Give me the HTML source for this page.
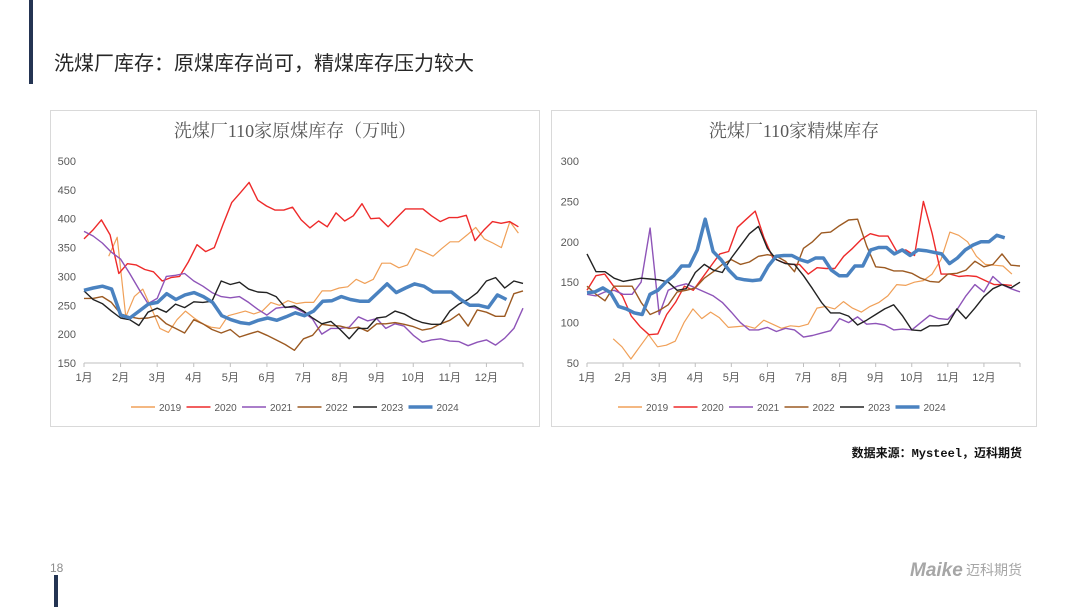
<!DOCTYPE html>
<html><head><meta charset="utf-8">
<style>
body{margin:0;background:#fff;width:1080px;height:607px;overflow:hidden;font-family:"Liberation Sans","Noto Sans CJK SC",sans-serif;}
svg text{font-family:"Liberation Sans","Noto Sans CJK SC",sans-serif;}
</style></head>
<body>
<svg id="page" width="1080" height="607" viewBox="0 0 1080 607">
  <rect x="29" y="0" width="4" height="84" fill="#243452"/>
  <rect x="54" y="575" width="4" height="32" fill="#243452"/>
  <text x="54" y="70" font-size="20" fill="#262626">洗煤厂库存：原煤库存尚可，精煤库存压力较大</text>
  <rect x="50.5" y="110.5" width="489" height="316" fill="#fff" stroke="#d9d9d9"/>
  <rect x="551.5" y="110.5" width="485" height="316" fill="#fff" stroke="#d9d9d9"/>
  <g id="left"></g>
  <g id="right"></g>
  <text x="1022" y="457" font-size="12" font-weight="bold" text-anchor="end" fill="#111" style="font-family:'Liberation Mono','Noto Sans CJK SC',monospace">数据来源：Mysteel，迈科期货</text>
  <text x="50" y="572" font-size="12" fill="#8c8c8c">18</text>
  <text x="910" y="576" font-size="19" font-weight="bold" font-style="italic" fill="#a6a6a6">Maike</text>
  <text x="966" y="575" font-size="14" fill="#a6a6a6">迈科期货</text>
</svg>
<script>
const months = ['1月','2月','3月','4月','5月','6月','7月','8月','9月','10月','11月','12月'];
const years = ['2019','2020','2021','2022','2023','2024'];
const colors = ['#f0a058','#ee2a2a','#8e54b8','#9c5a22','#222222','#4a82c0'];
const widths = [1.2,1.4,1.4,1.4,1.4,3.5];
const leftTicks = [150,200,250,300,350,400,450,500];
const rightTicks = [50,100,150,200,250,300];
const leftStart = [2.7,0,0,0,0,0];
const leftEnd = [47.5,47.5,48,48,48,46.2];
const rightStart = [2.9,0,0,0,0,0];
const rightEnd = [47.1,47.1,48,48,48,46.3];

const raw2019 = [335,368,230,265,278,245,210,203,225,240,228,218,212,210,232,236,240,235,240,255,250,258,253,255,255,275,275,280,282,295,288,295,323,323,315,320,348,342,335,348,360,360,372,385,365,358,350,395,375];
const raw2020 = [365,380,398,372,305,322,320,312,308,292,298,300,325,355,343,350,390,428,445,463,432,422,415,415,420,398,384,396,386,410,396,405,426,400,401,386,402,417,417,417,405,395,402,402,406,362,380,395,392,395,386];
const raw2021 = [378,370,358,342,330,305,278,253,262,300,302,305,292,283,272,265,263,265,255,243,233,245,247,246,238,226,200,210,210,212,230,223,227,210,218,214,198,186,190,192,188,187,180,186,190,181,193,210,245];
const raw2022 = [262,262,265,255,235,230,227,228,232,218,210,202,225,218,208,202,208,195,200,205,198,190,182,172,192,198,217,215,214,210,212,205,218,218,220,217,213,207,210,218,224,235,214,242,238,231,231,270,275];
const raw2023 = [275,260,253,240,228,225,215,238,245,238,252,246,256,255,257,292,286,290,278,273,272,265,246,249,240,228,218,222,208,192,210,210,228,230,240,235,226,220,217,217,240,252,260,272,292,298,280,292,288];
const raw2024 = [276,280,283,278,233,228,240,252,255,270,260,268,272,265,255,232,225,220,218,224,228,224,230,237,232,240,257,258,265,260,257,257,272,287,272,280,287,283,273,273,273,260,250,250,246,268,260];

const cln2019 = [80,70,55,70,85,70,72,77,100,117,105,113,106,94,95,96,93,103,98,93,96,95,98,118,120,117,126,118,113,120,125,133,147,146,150,152,160,178,212,208,200,182,172,171,170,160];
const cln2020 = [140,158,160,145,133,108,95,85,86,110,125,145,140,155,170,185,188,218,228,238,205,180,175,172,172,160,168,167,167,182,192,203,210,207,207,188,190,183,250,210,160,160,157,158,157,152,147,147,146];
const cln2021 = [135,133,138,140,135,135,150,217,110,140,145,148,143,138,133,125,113,100,91,91,94,89,93,91,82,84,87,90,105,100,107,98,99,97,91,92,91,100,109,105,104,116,133,147,138,157,147,142,138];
const cln2022 = [145,135,127,145,145,145,125,110,115,122,138,140,143,155,163,172,178,172,175,182,184,182,176,163,192,200,211,212,220,227,228,195,169,168,164,164,161,155,151,150,160,161,165,176,169,172,185,171,170];
const cln2023 = [185,163,163,155,151,153,155,154,153,150,140,142,162,172,165,162,180,195,210,219,192,178,173,172,158,142,125,112,112,108,97,103,110,117,122,108,91,90,96,96,98,117,105,118,132,142,147,143,150];
const cln2024 = [137,138,143,137,120,117,112,110,135,140,150,158,170,170,190,228,188,178,165,155,153,152,153,170,182,183,183,178,175,180,180,165,158,158,170,170,190,193,193,185,190,183,190,189,187,185,173,180,190,196,200,200,208,205];

const NS='http://www.w3.org/2000/svg';
function mk(tag, attrs, parent){const e=document.createElementNS(NS,tag);for(const k in attrs)e.setAttribute(k,attrs[k]);parent.appendChild(e);return e;}

function drawChart(g, cfg){
  const xs = w => cfg.x0 + (cfg.x1-cfg.x0)*w/48;
  const ys = v => cfg.y0 - (cfg.y0-cfg.y1)*(v-cfg.vmin)/(cfg.vmax-cfg.vmin);
  const t = mk('text',{x:(cfg.fx0+cfg.fx1)/2,y:137,'font-size':18,'text-anchor':'middle',fill:'#595959',style:"font-family:'Liberation Serif','Noto Serif CJK SC',serif"},g);
  t.textContent = cfg.title;
  
  
  cfg.ticks.forEach(v=>{
    const l = mk('text',{x:cfg.x0-8,y:ys(v)+4,'font-size':11,'text-anchor':'end',fill:'#595959'},g);
    l.textContent = v;
    
    
  });
  const ax = mk('line',{x1:cfg.x0,x2:cfg.x1,y1:cfg.y0,y2:cfg.y0,stroke:'#bfbfbf'},g);
  
  
  for(let m=0;m<=12;m++){
    const tk = mk('line',{x1:xs(m*4),x2:xs(m*4),y1:cfg.y0,y2:cfg.y0+4,stroke:'#bfbfbf'},g);
    
    
    if(m<12){
      const l = mk('text',{x:xs(m*4),y:cfg.y0+18,'font-size':11,'text-anchor':'middle',fill:'#595959'},g);
      l.textContent = months[m];
      
      
    }
  }
  cfg.series.forEach((vals,si)=>{
    const s=cfg.start[si], e=cfg.end[si], n=vals.length;
    const pts = vals.map((v,i)=>xs(s+(e-s)*i/(n-1)).toFixed(1)+','+ys(v).toFixed(1)).join(' ');
    const p = mk('polyline',{points:pts,fill:'none',stroke:colors[si],'stroke-width':widths[si],'stroke-linejoin':'round'},g);
    
    
  });
  const lx = cfg.legX;
  years.forEach((y,i)=>{
    const x = lx + i*55.5;
    const ln = mk('line',{x1:x,x2:x+24,y1:407,y2:407,stroke:colors[i],'stroke-width':widths[i]>2?3.5:1.5},g);
    
    
    const tx = mk('text',{x:x+28,y:411,'font-size':10,fill:'#595959'},g);
    tx.textContent = y;
    
    
  });
}
drawChart(document.getElementById('left'),{title:'洗煤厂110家原煤库存（万吨）',fx0:50,fx1:540,x0:84,x1:523,y0:363,y1:161,vmin:150,vmax:500,ticks:leftTicks,
  series:[raw2019,raw2020,raw2021,raw2022,raw2023,raw2024],start:leftStart,end:leftEnd,legX:131});
drawChart(document.getElementById('right'),{title:'洗煤厂110家精煤库存',fx0:551,fx1:1037,x0:587,x1:1020,y0:363,y1:161,vmin:50,vmax:300,ticks:rightTicks,
  series:[cln2019,cln2020,cln2021,cln2022,cln2023,cln2024],start:rightStart,end:rightEnd,legX:618});
</script>
</body></html>
